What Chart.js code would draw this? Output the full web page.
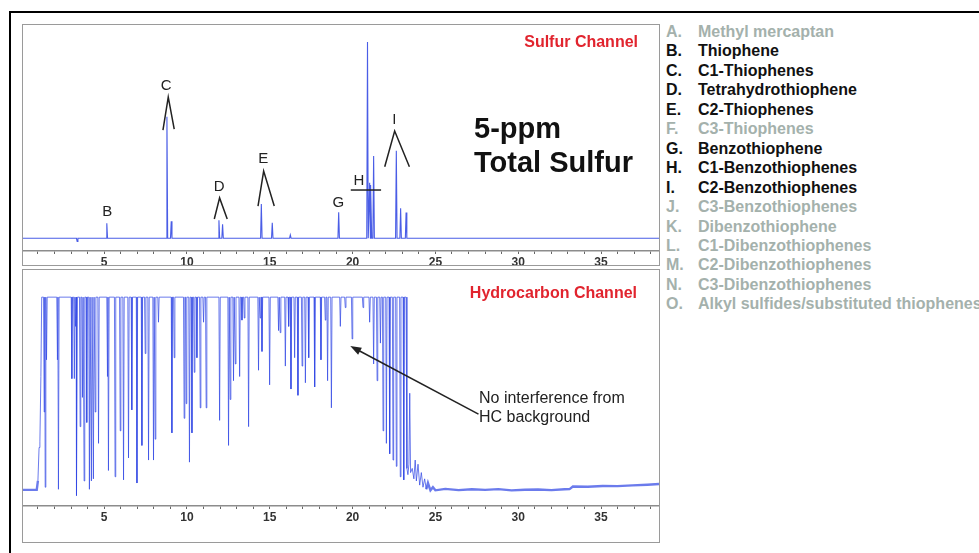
<!DOCTYPE html>
<html>
<head>
<meta charset="utf-8">
<script src="https://cdn.jsdelivr.net/npm/chart.js@4.4.0/dist/chart.umd.min.js"></script>
<style>
  body { margin: 0; background: #fff; font-family: "Liberation Sans", Arial, sans-serif; }
  #page { position: relative; width: 979px; height: 553px; overflow: hidden; background: #fff; }
  .abs { position: absolute; }
  .frame { position: absolute; border: 1.5px solid #9a9a9a; box-sizing: border-box; pointer-events: none; }
  .red { color: #e1242e; font-weight: bold; font-size: 16px; line-height: 20px; white-space: nowrap; text-align: right; }
  .row { position: absolute; left: 0; height: 19.4px; line-height: 19.4px; font-size: 16px; font-weight: bold; white-space: nowrap; }
  .row .k { position: absolute; left: 666px; }
  .row .n { position: absolute; left: 698px; }
</style>
</head>
<body>
<div id="page">
  <div class="abs" style="left:9px;top:11px;width:1000px;height:600px;border-left:2px solid #000;border-top:2px solid #000;"></div>

  <canvas id="sulfur" class="abs" width="636" height="244" style="left:23px;top:25px;"></canvas>
  <canvas id="hydro" class="abs" width="636" height="272" style="left:23px;top:270px;"></canvas>
  <div class="frame" style="left:22px;top:24px;width:638px;height:242px;"></div>
  <div class="frame" style="left:22px;top:269px;width:638px;height:274px;"></div>

  <div class="abs red" style="right:341px;top:32px;">Sulfur Channel</div>
  <div class="abs red" style="right:342px;top:283px;">Hydrocarbon Channel</div>
  <div class="abs" style="left:474px;top:111px;font-size:29px;line-height:34px;font-weight:bold;color:#111;white-space:nowrap;">5-ppm<br>Total Sulfur</div>
  <div class="abs" style="left:479px;top:387.5px;font-size:16px;line-height:19px;color:#222;white-space:nowrap;">No interference from<br>HC background</div>

  <div id="legend"></div>
</div>

<script>
// sulfur channel: retention time (min) and peak height (% of scale)
var sulfurTimes   = [3.37, 5.16, 8.79, 9.05, 11.93, 12.15, 14.49, 15.15, 16.24, 19.16, 20.90, 21.03, 21.11, 21.27, 22.64, 22.90, 23.23];
var sulfurHeights = [-1.5, 7,    57,   8,    8.4,   6.5,   16,    7.2,   1.5,   12.2,  92,    26,    25,    38.5,  41,    14,    12];

// hydrocarbon channel: start of run, dips between saturated peaks, tail
var hcHeadTimes  = [0.1, 0.93, 1.0, 1.07, 1.12, 1.18, 1.23];
var hcHeadValues = [7.7, 7.7,  12,  28,   31,   62,   100];

var hcDipTimes = [1.38, 1.44, 1.52, 2.18, 2.24, 3.05, 3.20, 3.27, 3.35, 3.55, 3.69, 3.79, 3.95, 4.11, 4.23, 4.35, 4.46, 4.66,
  5.20, 5.26, 5.66, 5.97, 6.17, 6.47, 6.67, 6.98, 7.28, 7.48, 7.68, 7.98, 8.08, 8.28, 9.09, 9.23, 9.83, 9.95,
  10.15, 10.30, 10.44, 10.60, 10.80, 11.00, 11.16, 11.97, 12.51, 12.61, 12.81, 12.92, 13.18, 13.32, 13.46, 13.72,
  14.32, 14.42, 14.53, 14.99, 15.53, 15.63, 15.94, 16.14, 16.28, 16.50, 16.70, 16.95, 17.15, 17.35, 17.71,
  18.09, 18.35, 18.49, 18.72, 19.26, 19.56, 19.97, 20.63, 21.03, 21.27, 21.48, 21.68, 21.84, 22.04, 22.24,
  22.44, 22.64, 22.88, 23.09];
var hcDipValues = [45, 9, 70, 70, 8, 61, 61, 86, 5, 38, 52, 12, 40, 8, 12, 13, 45, 30,
  62, 17, 14, 36, 12.5, 23, 46, 11, 29, 73, 22, 22, 32, 88, 35, 71, 42, 49,
  21, 35, 64, 71, 47, 88, 47, 41, 29, 51, 60, 68, 62, 89, 90, 38,
  65, 90, 74, 58, 84, 83, 67, 86, 56, 71, 53, 67, 59, 71, 57,
  70, 89, 60, 47, 86, 95, 80, 95, 88, 68, 60, 78, 36, 30, 25,
  22, 19, 14, 12.5];

var hcTailTimes  = [23.23, 23.28, 23.34, 23.40, 23.45, 23.50, 23.60, 23.70, 23.78, 23.85, 23.95, 24.05, 24.15, 24.25, 24.35, 24.45,
  24.55, 24.70, 24.85, 25.0, 25.6, 26.4, 27.2, 28.0, 28.8, 29.6, 30.4, 31.2, 32.0, 32.8, 33.1, 33.3, 34.2, 35.1, 36.0, 36.9, 37.8, 38.5];
var hcTailValues = [100, 18, 15, 20, 54, 16, 18, 13, 22, 12, 20, 10, 16, 9, 13, 8,
  11, 7.5, 9, 7.5, 8.2, 7.6, 8.0, 7.7, 8.1, 7.5, 7.8, 7.9, 7.6, 8.0, 8.1, 9.3, 9.2, 9.6, 9.5, 9.9, 10.2, 10.5];

var legendKeys  = ["A.", "B.", "C.", "D.", "E.", "F.", "G.", "H.", "I.", "J.", "K.", "L.", "M.", "N.", "O."];
var legendNames = ["Methyl mercaptan", "Thiophene", "C1-Thiophenes", "Tetrahydrothiophene", "C2-Thiophenes", "C3-Thiophenes",
  "Benzothiophene", "C1-Benzothiophenes", "C2-Benzothiophenes", "C3-Benzothiophenes", "Dibenzothiophene",
  "C1-Dibenzothiophenes", "C2-Dibenzothiophenes", "C3-Dibenzothiophenes", "Alkyl sulfides/substituted thiophenes"];
var legendFound = [false, true, true, true, true, false, true, true, true, false, false, false, false, false, false];

// legend list
var lg = document.getElementById("legend");
legendKeys.forEach(function (k, i) {
  var r = document.createElement("div");
  r.className = "row";
  r.style.top = (22 + i * 19.45) + "px";
  r.style.color = legendFound[i] ? "#111" : "#a4b1ac";
  r.innerHTML = '<span class="k">' + k + '</span><span class="n">' + legendNames[i] + '</span>';
  lg.appendChild(r);
});

Chart.defaults.font.family = '"Liberation Sans", Arial, sans-serif';

var peakHalf = 0.045, dipHalf = 0.04;

var sulfurData = [{ x: 0.1, y: 0 }];
sulfurTimes.forEach(function (t, i) {
  sulfurData.push({ x: t - peakHalf, y: 0 }, { x: t, y: sulfurHeights[i] }, { x: t + peakHalf, y: 0 });
});
sulfurData.push({ x: 38.5, y: 0 });

var hcData = [];
hcHeadTimes.forEach(function (t, i) { hcData.push({ x: t, y: hcHeadValues[i] }); });
hcDipTimes.forEach(function (t, i) {
  hcData.push({ x: t - dipHalf, y: 100 }, { x: t, y: hcDipValues[i] }, { x: t + dipHalf, y: 100 });
});
hcTailTimes.forEach(function (t, i) { hcData.push({ x: t, y: hcTailValues[i] }); });

// labels, carets and arrows drawn in data coordinates
var marksPlugin = {
  id: "marks",
  afterDatasetsDraw: function (chart, args, opts) {
    var xs = chart.scales.x, ys = chart.scales.y, c = chart.ctx;
    var X = function (v) { return xs.getPixelForValue(v); };
    var Y = function (v) { return ys.getPixelForValue(v); };
    c.save();
    c.strokeStyle = "#222";
    c.fillStyle = "#222";
    c.lineWidth = 1.5;
    (opts.items || []).forEach(function (m) {
      if (m.text) {
        c.font = "15px 'Liberation Sans', Arial, sans-serif";
        c.textAlign = "center";
        c.textBaseline = "middle";
        c.fillText(m.text, X(m.at[0]), Y(m.at[1]));
      }
      if (m.path) {
        c.beginPath();
        m.path.forEach(function (p, j) {
          if (j === 0) c.moveTo(X(p[0]), Y(p[1])); else c.lineTo(X(p[0]), Y(p[1]));
        });
        c.stroke();
      }
      if (m.arrow) {
        var x1 = X(m.arrow[0][0]), y1 = Y(m.arrow[0][1]), x2 = X(m.arrow[1][0]), y2 = Y(m.arrow[1][1]);
        var a = Math.atan2(y2 - y1, x2 - x1);
        c.beginPath();
        c.moveTo(x1, y1);
        c.lineTo(x2 - 8 * Math.cos(a), y2 - 8 * Math.sin(a));
        c.stroke();
        c.beginPath();
        c.moveTo(x2, y2);
        c.lineTo(x2 - 11 * Math.cos(a) + 4 * Math.sin(a), y2 - 11 * Math.sin(a) - 4 * Math.cos(a));
        c.lineTo(x2 - 11 * Math.cos(a) - 4 * Math.sin(a), y2 - 11 * Math.sin(a) + 4 * Math.cos(a));
        c.closePath();
        c.fill();
      }
    });
    c.restore();
  }
};

function makeChart(id, data, yMin, yMax, axisHeight, padBottom, items, color, segWidth) {
  return new Chart(document.getElementById(id), {
    type: "line",
    data: {
      datasets: [{
        data: data,
        borderColor: color,
        borderWidth: 1,
        pointRadius: 0,
        tension: 0,
        fill: false,
        segment: { borderWidth: segWidth }
      }]
    },
    options: {
      responsive: false,
      animation: false,
      events: [],
      layout: { padding: { left: 0, right: 0, top: 0, bottom: padBottom } },
      plugins: { legend: { display: false }, tooltip: { enabled: false }, marks: { items: items } },
      scales: {
        x: {
          type: "linear",
          min: 0.1,
          max: 38.5,
          afterFit: function (s) { s.height = axisHeight; },
          border: { display: true, color: "#8c8c8c", width: 1.5 },
          grid: { display: true, drawOnChartArea: false, drawTicks: true, tickLength: 3, color: "#666" },
          ticks: {
            stepSize: 1,
            includeBounds: false,
            autoSkip: false,
            maxRotation: 0,
            padding: 1,
            color: "#333",
            font: { size: 12, weight: "bold" },
            callback: function (v) { return v % 5 === 0 ? String(v) : ""; }
          }
        },
        y: { display: false, min: yMin, max: yMax }
      }
    },
    plugins: [marksPlugin]
  });
}

var sulfurMarks = [
  { text: "B", at: [5.18, 12.3] },
  { text: "C", at: [8.75, 71.4] },
  { path: [[8.55, 50.7], [8.87, 66.2], [9.23, 51.2]] },
  { text: "D", at: [11.95, 24] },
  { path: [[11.65, 9], [11.97, 18.9], [12.43, 9]] },
  { text: "E", at: [14.61, 37.1] },
  { path: [[14.29, 15.1], [14.63, 31.5], [15.27, 15.1]] },
  { text: "G", at: [19.14, 16.5] },
  { text: "H", at: [20.38, 26.8] },
  { path: [[19.89, 22.6], [21.72, 22.6]] },
  { text: "I", at: [22.52, 55.4] },
  { path: [[21.94, 33.5], [22.54, 50.3], [23.43, 33.5]] }
];
var hcMarks = [
  { arrow: [[27.6, 44], [19.86, 76.6]] }
];

makeChart("sulfur", sulfurData, -6, 100, 14, 4, sulfurMarks, "#4a5de6", function () { return 1.1; });
makeChart("hydro", hcData, 0, 113, 20, 16, hcMarks, "rgba(50,72,228,0.72)", function (ctx) {
  var x = ctx.p0.parsed.x;
  return (x > 24.4 || x < 0.95) ? 2.4 : 1;
});
</script>
</body>
</html>
